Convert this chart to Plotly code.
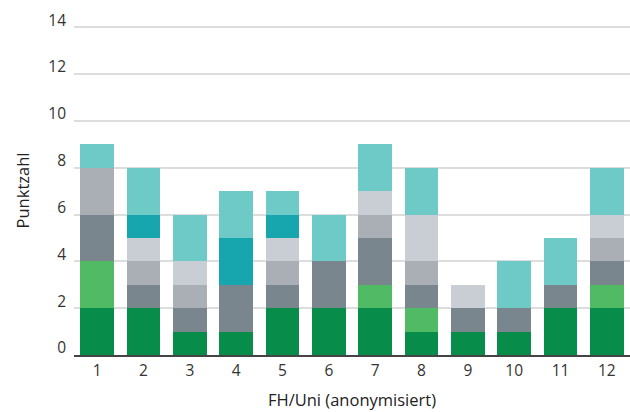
import plotly.graph_objects as go

categories = ["1", "2", "3", "4", "5", "6", "7", "8", "9", "10", "11", "12"]
s_dark_green = [2, 2, 1, 1, 2, 2, 2, 1, 1, 1, 2, 2]
s_light_green = [2, 0, 0, 0, 0, 0, 1, 1, 0, 0, 0, 1]
s_dark_gray = [2, 1, 1, 2, 1, 2, 2, 1, 1, 1, 1, 1]
s_mid_gray = [2, 1, 1, 0, 1, 0, 1, 1, 0, 0, 0, 1]
s_light_gray = [0, 1, 1, 0, 1, 0, 1, 2, 1, 0, 0, 1]
s_dark_teal = [0, 1, 0, 2, 1, 0, 0, 0, 0, 0, 0, 0]
s_light_teal = [1, 2, 2, 2, 1, 2, 2, 2, 0, 2, 2, 2]
y_ticks = [0, 2, 4, 6, 8, 10, 12, 14]

series = [
    ("A", s_dark_green, "#078C4A"),
    ("B", s_light_green, "#50BA64"),
    ("C", s_dark_gray, "#7A868D"),
    ("D", s_mid_gray, "#A9AFB5"),
    ("E", s_light_gray, "#C8CED4"),
    ("F", s_dark_teal, "#17A5AE"),
    ("G", s_light_teal, "#6ECAC6"),
]

fig = go.Figure()
for name, vals, col in series:
    fig.add_trace(go.Bar(x=categories, y=vals, name=name, marker_color=col,
                         marker_line_width=0, hoverinfo="skip"))

font = "Open Sans, sans-serif"
fig.update_layout(
    barmode="stack",
    bargap=0.27,
    width=630, height=412,
    margin=dict(l=74, r=0, t=26, b=57),
    paper_bgcolor="white", plot_bgcolor="white",
    showlegend=False,
    font=dict(family=font, size=15, color="#333333"),
    xaxis=dict(
        type="category",
        automargin=False,
        showgrid=False,
        showline=True, linecolor="#444444", linewidth=2,
        ticks="", tickfont=dict(size=15.5, color="#333333"),
        title=dict(text="FH/Uni (anonymisiert)", font=dict(size=16.5, color="#222222", weight=500), standoff=15),
    ),
    yaxis=dict(
        range=[0, 14.05],
        automargin=False,
        tickvals=y_ticks,
        showgrid=True, gridcolor="#dddddd", gridwidth=1.5,
        zeroline=False,
        ticks="", tickfont=dict(size=15.5, color="#333333"),
        ticklabelstandoff=7,
        ticklabelshift=-7,
        title=dict(text="Punktzahl", font=dict(size=16.5, color="#222222", weight=500), standoff=14),
    ),
)

fig.write_html("out.html", config={"displayModeBar": False},
               post_script="document.body.style.margin='0';document.body.style.padding='0';")
